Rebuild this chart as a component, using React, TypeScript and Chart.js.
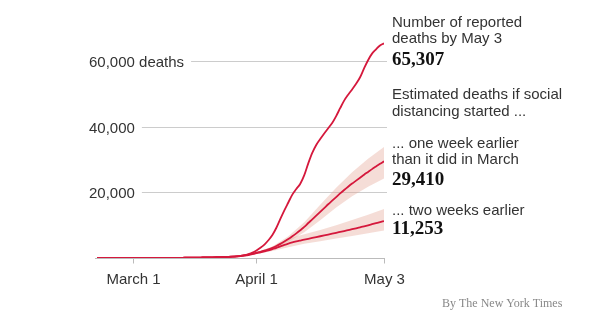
import { useEffect, useRef } from 'react';
import { Chart, registerables } from 'chart.js';
Chart.register(...registerables);

// Days counted from Feb 21 (day 0) to May 3 (day 72)
const xTickDays = [9, 40, 72];
const xTickLabels = ['March 1', 'April 1', 'May 3'];
const yTickValues = [20000, 40000, 60000];
const yTickLabels = ['20,000', '40,000', '60,000 deaths'];

const reported = [
  0, 0, 0, 0, 0, 0, 0, 0, 0,
  1, 2, 5, 8, 11, 14, 18, 22, 28, 35, 42, 50, 60, 70, 85, 100, 120, 140, 150, 170, 195, 225, 260, 305, 360,
  430, 520, 650, 850, 1200, 1650, 2300, 3100, 4100, 5400, 7000, 9200, 11900, 14500, 16900, 19300,
  21000, 22600, 25200, 28800, 32000, 34400, 36200, 37900, 39500, 41100, 43200, 45600, 47900, 49700,
  51300, 53000, 55000, 57700, 60200, 62200, 63500, 64700, 65307,
];

const oneWeekEarlier = [
  0, 0, 0, 0, 0, 0, 0, 0, 0,
  1, 2, 5, 8, 11, 14, 18, 22, 28, 35, 42, 50, 60, 70, 85, 100, 120, 140, 150, 170, 195, 225, 260, 305, 360,
  420, 500, 630, 820, 1050, 1300, 1600, 1900, 2250, 2650, 3100, 3650, 4300, 5000, 5750, 6600,
  7500, 8450, 9450, 10650, 11750, 12900, 14050, 15200, 16350, 17450, 18550, 19650, 20700, 21700,
  22650, 23550, 24450, 25350, 26200, 27050, 27850, 28650, 29410,
];

const twoWeeksEarlier = [
  0, 0, 0, 0, 0, 0, 0, 0, 0,
  1, 2, 5, 8, 11, 14, 18, 22, 28, 35, 42, 50, 60, 70, 85, 100, 120, 140, 150, 170, 195, 225, 260, 305, 360,
  410, 480, 580, 720, 900, 1150, 1450, 1720, 2000, 2300, 2700, 3100, 3550, 4000, 4400, 4750,
  5050, 5320, 5580, 5840, 6100, 6360, 6620, 6880, 7140, 7400, 7660, 7930, 8200, 8480,
  8760, 9050, 9350, 9650, 9960, 10280, 10600, 10920, 11253,
];

const bandDays = [36, 40, 44, 48, 52, 56, 60, 64, 68, 72];
const oneWeekUpper = [630, 1750, 3500, 6600, 10900, 16200, 21400, 26100, 30200, 33800];
const oneWeekLower = [630, 1450, 2700, 4850, 7800, 11500, 15400, 18800, 21700, 24200];
const twoWeeksUpper = [580, 1750, 3400, 5900, 7200, 8500, 10000, 11600, 13200, 14900];
const twoWeeksLower = [580, 1250, 2100, 3300, 4300, 5100, 5900, 6700, 7500, 8350];

const noteLines = [
  { text: 'Number of reported', y: 26.5, bold: false },
  { text: 'deaths by May 3', y: 42.5, bold: false },
  { text: '65,307', y: 64.5, bold: true },
  { text: 'Estimated deaths if social', y: 98.8, bold: false },
  { text: 'distancing started ...', y: 115.5, bold: false },
  { text: '... one week earlier', y: 147.7, bold: false },
  { text: 'than it did in March', y: 164.3, bold: false },
  { text: '29,410', y: 184.5, bold: true },
  { text: '... two weeks earlier', y: 215.3, bold: false },
  { text: '11,253', y: 233.5, bold: true },
];
const credit = 'By The New York Times';

const RED = 'rgb(213, 24, 60)';
const BAND = 'rgba(228, 165, 150, 0.38)';
const SANS = '"Liberation Sans", Arial, sans-serif';
const SERIF = '"Liberation Serif", "Times New Roman", serif';

const toPts = (arr: number[]) => arr.map((y, i) => ({ x: i, y }));
const toBand = (arr: number[]) => arr.map((y, i) => ({ x: bandDays[i], y }));

const decor = {
  id: 'nytDecor',
  beforeDatasetsDraw(chart: any) {
    const { ctx, scales } = chart;
    const xs = scales.x;
    const ys = scales.y;
    ctx.save();
    ctx.font = `15px ${SANS}`;
    ctx.textAlign = 'left';
    ctx.textBaseline = 'alphabetic';
    yTickValues.forEach((v, i) => {
      const py = Math.round(ys.getPixelForValue(v)) + 0.5;
      const w = ctx.measureText(yTickLabels[i]).width;
      ctx.fillStyle = '#333';
      ctx.fillText(yTickLabels[i], 89, py + 5.5);
      ctx.strokeStyle = '#cccccc';
      ctx.lineWidth = 1;
      ctx.beginPath();
      ctx.moveTo(89 + w + 7, py);
      ctx.lineTo(xs.right + 3, py);
      ctx.stroke();
    });
    const py0 = Math.round(ys.getPixelForValue(0)) + 0.5;
    ctx.strokeStyle = '#bbbbbb';
    ctx.beginPath();
    ctx.moveTo(xs.left - 2, py0);
    ctx.lineTo(xs.right + 1, py0);
    ctx.stroke();
    ctx.textAlign = 'center';
    xTickDays.forEach((d, i) => {
      const px = Math.round(xs.getPixelForValue(d)) + 0.5;
      ctx.beginPath();
      ctx.moveTo(px, py0);
      ctx.lineTo(px, py0 + 5);
      ctx.stroke();
      ctx.fillStyle = '#333';
      ctx.fillText(xTickLabels[i], px, py0 + 25);
    });
    ctx.restore();
  },
  afterDraw(chart: any) {
    const { ctx } = chart;
    ctx.save();
    ctx.textAlign = 'left';
    ctx.textBaseline = 'alphabetic';
    noteLines.forEach((l) => {
      ctx.font = l.bold ? `bold 19px ${SERIF}` : `15px ${SANS}`;
      ctx.fillStyle = l.bold ? '#111' : '#333';
      ctx.fillText(l.text, 392, l.y);
    });
    ctx.font = `12px ${SERIF}`;
    ctx.fillStyle = '#888';
    ctx.fillText(credit, 442, 306.5);
    ctx.restore();
  },
};

export default function App() {
  const ref = useRef<HTMLCanvasElement | null>(null);
  useEffect(() => {
    if (!ref.current) return;
    const lineDs = (data: number[]) => ({
      data: toPts(data),
      borderColor: RED,
      borderWidth: 1.8,
      pointRadius: 0,
      fill: false,
      cubicInterpolationMode: 'monotone' as const,
    });
    const bandDs = (data: number[], fill: any) => ({
      data: toBand(data),
      borderWidth: 0,
      borderColor: 'rgba(0,0,0,0)',
      backgroundColor: BAND,
      pointRadius: 0,
      fill,
    });
    const chart = new Chart(ref.current, {
      type: 'line',
      data: {
        datasets: [
          lineDs(reported),
          lineDs(oneWeekEarlier),
          lineDs(twoWeeksEarlier),
          bandDs(oneWeekLower, '+1'),
          bandDs(oneWeekUpper, false),
          bandDs(twoWeeksLower, '+1'),
          bandDs(twoWeeksUpper, false),
        ] as any,
      },
      options: {
        animation: false,
        responsive: false,
        events: [],
        layout: { padding: { left: 97, right: 216, top: 28, bottom: 69 } },
        scales: {
          x: { type: 'linear', min: 0, max: 72, display: false },
          y: { type: 'linear', min: 0, max: 70000, display: false },
        },
        plugins: { legend: { display: false }, tooltip: { enabled: false } },
      },
      plugins: [decor],
    });
    return () => chart.destroy();
  }, []);
  return (
    <div style={{ position: 'absolute', left: 0, top: 0, width: 600, height: 327, background: '#fff' }}>
      <canvas ref={ref} width={600} height={327} style={{ display: 'block' }} />
    </div>
  );
}
